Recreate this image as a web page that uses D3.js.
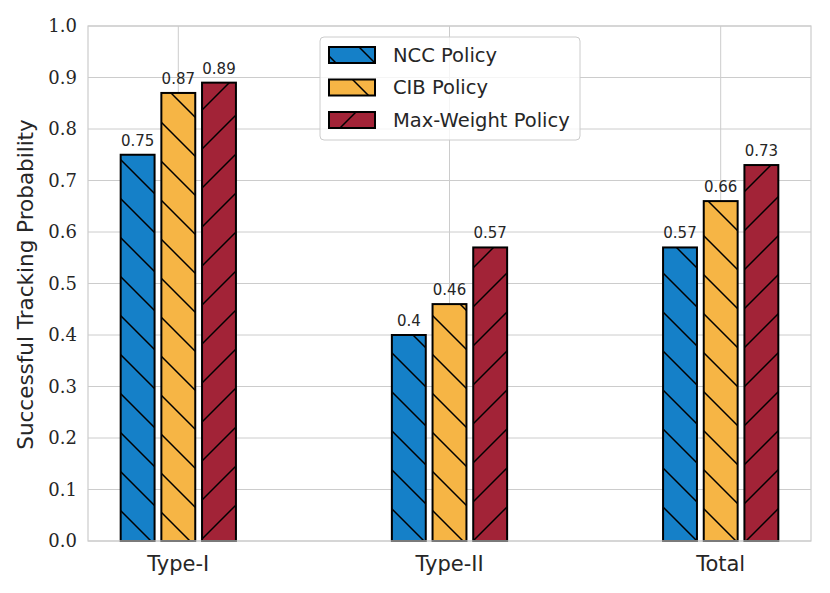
<!DOCTYPE html>
<html><head><meta charset="utf-8">
<script src="https://cdn.jsdelivr.net/npm/d3@7"></script>
<style>body{margin:0;background:#fff}</style>
</head><body>
<svg id="c" width="830" height="593"></svg>
<script>
const categories = ["Type-I", "Type-II", "Total"];
const seriesNames = ["NCC Policy", "CIB Policy", "Max-Weight Policy"];
const ncc = [0.75, 0.40, 0.57];
const cib = [0.87, 0.46, 0.66];
const maxw = [0.89, 0.57, 0.73];
const yTicks = [0.0, 0.1, 0.2, 0.3, 0.4, 0.5, 0.6, 0.7, 0.8, 0.9, 1.0];
const colors = ["#1580c8", "#f6b545", "#a22337"];
const hatches = ["back", "back", "fwd"];

const series = [ncc, cib, maxw];
const svg = d3.select("#c");
const L = 88, R = 811, T = 26, B = 541;
const x = d3.scaleLinear().domain([-0.333, 2.333]).range([L, R]);
const y = d3.scaleLinear().domain([0, 1]).range([B, T]);
const barW = 0.125, step = 0.15;

const defs = svg.append("defs");
const S = 39;
series.forEach((s, i) => {
  const p = defs.append("pattern").attr("id", "h" + i).attr("patternUnits", "userSpaceOnUse")
    .attr("width", S).attr("height", S);
  p.append("rect").attr("width", S).attr("height", S).attr("fill", colors[i]);
  if (hatches[i] === "back") {
    p.append("path").attr("d", `M-5,-5L${S+5},${S+5}M${-5-S},-5L5,${S+5}M${S-5},-5L${2*S+5},${S+5}`)
      .attr("stroke", "#000").attr("stroke-width", 1.5);
  } else {
    p.append("path").attr("d", `M-5,${S+5}L${S+5},-5M-5,${5}L5,-5M${S-5},${S+5}L${S+5},${S-5}`)
      .attr("stroke", "#000").attr("stroke-width", 1.5);
  }
});

// grid
const g = svg.append("g");
yTicks.forEach(t => g.append("line").attr("x1", L).attr("x2", R).attr("y1", y(t)).attr("y2", y(t))
  .attr("stroke", "#cccccc").attr("stroke-width", 1));
categories.forEach((c, i) => g.append("line").attr("x1", x(i)).attr("x2", x(i)).attr("y1", T).attr("y2", B)
  .attr("stroke", "#cccccc").attr("stroke-width", 1));

// bars
series.forEach((s, si) => {
  s.forEach((v, ci) => {
    const cx = ci + (si - 1) * step;
    const x0 = x(cx - barW / 2), x1 = x(cx + barW / 2);
    svg.append("rect").attr("x", x0).attr("y", y(v)).attr("width", x1 - x0).attr("height", y(0) - y(v))
      .attr("fill", `url(#h${si})`).attr("stroke", "#000").attr("stroke-width", 2);
    svg.append("text").attr("x", x(cx)).attr("y", y(v) - 9).attr("text-anchor", "middle")
      .attr("font-family", "DejaVu Sans").attr("font-size", 15).attr("fill", "#262626")
      .text(String(+v.toFixed(2)));
  });
});

// frame
svg.append("rect").attr("x", L).attr("y", T).attr("width", R - L).attr("height", B - T)
  .attr("fill", "none").attr("stroke", "#cccccc").attr("stroke-width", 1.2);

// y ticks
yTicks.forEach(t => svg.append("text").attr("x", 77).attr("y", y(t)).attr("dy", "0.35em")
  .attr("text-anchor", "end").attr("font-family", "DejaVu Serif").attr("font-size", 18).attr("fill", "#262626")
  .text(t.toFixed(1)));
categories.forEach((c, i) => svg.append("text").attr("x", x(i)).attr("y", 571).attr("text-anchor", "middle")
  .attr("font-family", "DejaVu Sans").attr("font-size", 21).attr("fill", "#262626").text(c));
svg.append("text").attr("transform", `translate(33,${(T + B) / 2 + 1}) rotate(-90)`).attr("text-anchor", "middle")
  .attr("font-family", "DejaVu Sans").attr("font-size", 21.5).attr("fill", "#262626")
  .text("Successful Tracking Probability");

// legend
const lg = svg.append("g");
lg.append("rect").attr("x", 320).attr("y", 37).attr("width", 260).attr("height", 103).attr("rx", 4)
  .attr("fill", "#fff").attr("fill-opacity", 0.8).attr("stroke", "#cccccc").attr("stroke-width", 1);
seriesNames.forEach((n, i) => {
  const yy = 55 + i * 32.5;
  lg.append("rect").attr("x", 329).attr("y", yy - 8).attr("width", 46).attr("height", 16)
    .attr("fill", `url(#h${i})`).attr("stroke", "#000").attr("stroke-width", 2);
  lg.append("text").attr("x", 393).attr("y", yy).attr("dy", "0.35em").attr("font-family", "DejaVu Sans")
    .attr("font-size", 19.5).attr("fill", "#262626").text(n);
});
</script>
</body></html>
